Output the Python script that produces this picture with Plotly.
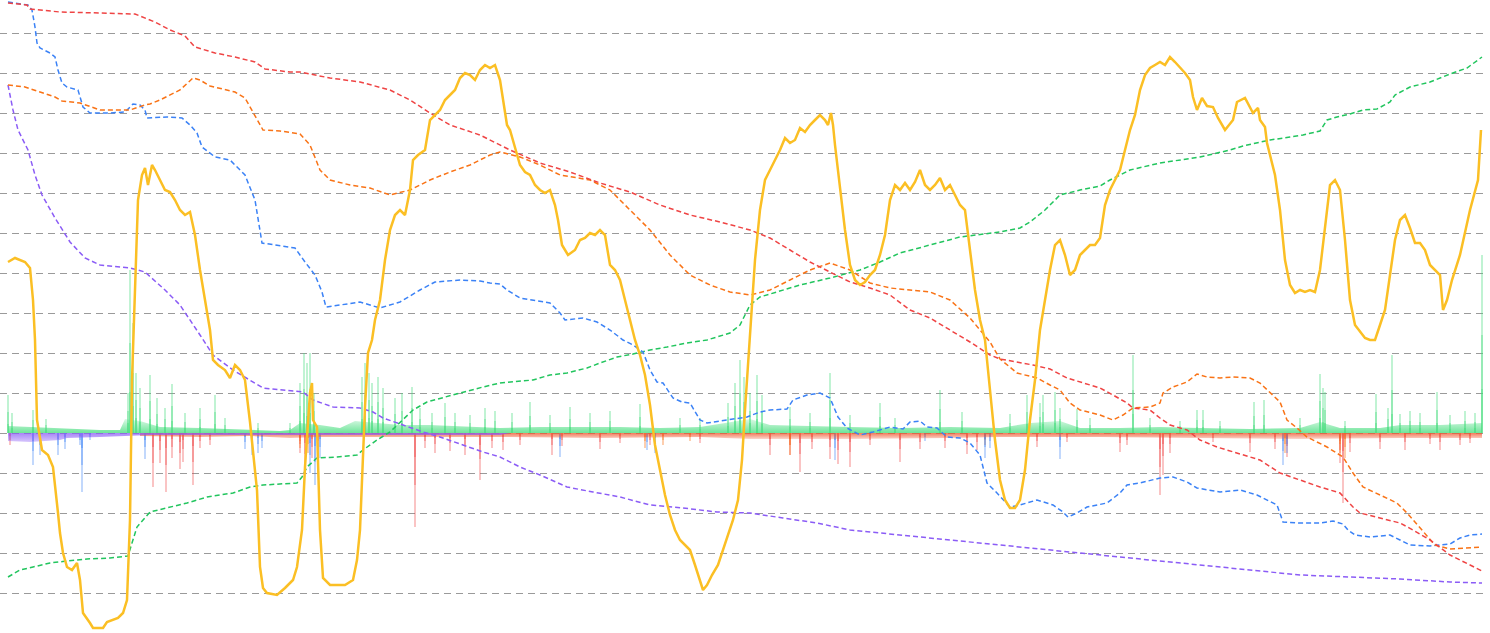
import plotly.graph_objects as go

# ---------------- data (t = day index, values in index points) ----------------
red_t = [0,19,22,52,92,127,132,147,162,177,187,207,227,247,257,282,292,322,352,382,402,422,442,472,502,532,562,592,622,652,682,712,742,762,782,802,822,842,862,882,902,922,942,962,982,992,1025,1042,1059,1075,1092,1105,1119,1125,1142,1152,1162,1179,1192,1209,1225,1242,1252,1272,1292,1312,1332,1345,1352,1372,1392,1405,1422,1442,1462,1474]
red_v = [430,428,424,421,420,419,417,411,403,397,386,380,376,371,364,361,361,355,351,343,333,320,308,298,283,270,261,250,241,228,218,211,203,195,183,171,161,151,145,138,123,115,103,91,78,74,68,64,55,50,45,38,30,25,23,15,8,3,-7,-14,-19,-24,-27,-40,-47,-54,-60,-74,-80,-85,-90,-97,-107,-122,-132,-138]

orange_t = [0,17,32,47,54,72,92,122,137,142,152,172,185,192,202,227,237,247,255,272,292,302,312,322,342,362,382,402,422,442,462,482,492,512,532,552,582,602,622,642,662,682,702,722,742,762,782,802,822,842,862,882,902,922,942,962,982,992,1009,1029,1042,1052,1062,1072,1092,1105,1115,1125,1142,1152,1155,1165,1179,1189,1199,1212,1225,1242,1252,1262,1272,1279,1289,1299,1319,1335,1345,1355,1372,1389,1399,1412,1427,1442,1462,1474]
orange_v = [348,346,341,336,332,330,323,323,328,329,333,343,355,353,347,341,335,318,303,302,299,288,263,253,248,245,238,243,253,261,268,278,281,276,268,258,253,243,223,203,178,158,148,141,138,143,153,163,170,163,150,145,143,141,133,115,91,74,60,55,48,43,30,23,18,13,18,25,26,30,40,46,51,59,56,55,56,55,50,40,31,13,5,-4,-14,-24,-40,-54,-62,-70,-80,-95,-112,-116,-115,-114]

blue_t = [0,12,20,24,27,29,32,42,47,50,54,59,70,75,82,102,117,125,132,137,139,159,174,182,189,194,207,222,237,247,254,267,287,297,307,314,318,332,352,372,392,412,427,452,472,482,492,499,512,542,552,557,575,589,602,615,625,635,642,649,655,665,674,682,692,699,712,725,739,752,762,779,785,799,812,822,830,839,852,865,882,895,902,912,919,929,939,952,962,972,979,989,1002,1012,1029,1045,1055,1060,1069,1079,1099,1112,1119,1132,1152,1165,1179,1189,1212,1232,1249,1269,1275,1292,1312,1325,1335,1340,1347,1362,1382,1392,1402,1422,1442,1452,1462,1474]
blue_v = [431,429,428,423,406,390,385,380,376,363,350,346,343,326,320,320,321,329,328,323,315,316,315,308,300,286,276,273,258,233,190,188,185,171,158,141,126,128,131,125,131,143,151,153,152,150,149,143,135,130,120,113,115,111,103,93,88,81,63,51,50,35,31,30,13,10,12,14,16,21,23,24,33,38,40,35,16,5,-2,1,6,4,11,12,6,5,-4,-5,-10,-22,-50,-60,-74,-72,-67,-72,-79,-84,-80,-74,-70,-60,-52,-50,-45,-44,-49,-55,-59,-57,-62,-72,-89,-90,-90,-88,-91,-97,-102,-104,-102,-107,-112,-113,-111,-105,-102,-101]

purple_t = [0,5,10,20,27,34,47,62,77,92,122,137,157,172,192,205,225,242,255,275,295,305,325,352,365,375,389,402,415,432,455,475,492,512,532,559,585,612,642,675,709,742,775,809,842,892,942,992,1042,1092,1142,1192,1242,1292,1342,1392,1442,1474]
purple_v = [348,323,303,283,258,238,215,191,175,168,165,161,143,128,98,78,63,53,45,43,41,33,26,25,21,15,10,5,1,-4,-12,-19,-24,-34,-42,-54,-59,-64,-72,-75,-79,-80,-85,-90,-97,-102,-107,-112,-117,-122,-127,-132,-137,-142,-144,-146,-149,-150]

green_t = [0,12,25,42,59,79,102,120,124,129,142,159,179,199,225,242,255,289,294,299,309,329,349,355,369,382,395,405,419,435,452,475,492,525,542,559,579,592,609,625,642,659,679,699,722,732,737,742,752,792,822,852,872,892,922,952,992,1012,1022,1037,1052,1072,1092,1102,1122,1152,1192,1222,1235,1249,1262,1282,1295,1312,1319,1329,1342,1355,1369,1382,1387,1402,1422,1442,1459,1474]
green_v = [-144,-137,-134,-130,-128,-126,-125,-123,-110,-94,-79,-75,-70,-64,-60,-54,-52,-50,-44,-34,-25,-24,-22,-17,-7,1,13,23,31,35,40,46,50,53,58,60,65,70,76,79,83,86,90,93,100,108,118,128,136,148,155,163,171,180,188,196,201,205,211,223,238,243,247,253,263,270,276,283,287,290,293,296,298,302,313,316,319,323,324,331,338,346,351,359,365,376]

yellow_t = [0,7,17,22,25,27,29,34,40,45,50,52,55,59,64,69,72,75,82,85,95,99,110,115,119,120,122,124,127,130,134,137,140,144,147,152,157,162,167,172,177,182,187,192,197,202,205,210,217,222,227,232,237,242,249,252,255,259,269,277,285,289,294,297,302,304,305,309,312,315,322,337,345,349,352,357,360,364,367,372,377,382,387,392,397,402,405,410,417,422,432,437,442,447,452,457,462,467,472,477,482,487,492,495,499,502,507,512,517,522,527,532,537,542,547,550,554,560,567,572,577,582,587,592,597,602,607,612,617,622,627,632,637,642,647,652,657,662,667,672,677,682,687,692,695,699,704,710,717,725,730,734,737,742,747,752,757,762,767,772,777,782,787,792,797,802,807,812,817,820,823,825,827,832,837,842,847,852,857,862,867,872,877,882,887,892,897,902,907,912,917,922,927,932,937,942,947,952,957,962,967,972,977,982,987,992,997,1002,1007,1012,1017,1022,1027,1032,1037,1042,1047,1052,1057,1062,1067,1072,1077,1082,1087,1092,1097,1102,1107,1112,1117,1122,1127,1132,1137,1142,1147,1152,1157,1162,1167,1172,1177,1182,1185,1189,1194,1199,1205,1210,1217,1225,1229,1237,1242,1245,1250,1252,1257,1259,1262,1267,1272,1277,1282,1287,1292,1297,1302,1307,1312,1317,1322,1327,1332,1337,1342,1347,1352,1357,1362,1367,1372,1377,1382,1387,1392,1397,1402,1407,1412,1417,1422,1427,1432,1435,1439,1444,1452,1462,1470,1473]
yellow_v = [171,175,171,165,133,93,13,-17,-22,-34,-80,-100,-120,-134,-137,-130,-147,-180,-190,-195,-195,-189,-185,-180,-167,-134,-87,53,153,233,258,265,248,268,263,253,243,241,233,223,218,221,198,163,133,103,73,68,63,55,68,63,53,11,-57,-134,-155,-160,-162,-155,-147,-134,-97,-34,40,50,13,6,-97,-145,-152,-152,-147,-127,-97,26,80,93,113,133,173,203,218,223,218,243,273,278,283,313,323,333,338,343,355,360,358,353,363,368,365,368,353,333,308,303,285,268,261,258,248,243,240,243,228,213,188,178,183,193,195,200,198,203,198,168,163,153,133,113,93,78,58,28,-12,-37,-62,-82,-97,-107,-112,-117,-132,-147,-157,-152,-142,-132,-112,-87,-67,-27,23,93,173,223,253,263,273,283,295,290,293,305,301,308,313,318,313,308,320,308,288,243,203,168,153,148,151,158,163,178,198,233,248,243,250,243,251,263,248,243,248,255,243,248,238,228,223,183,143,113,93,43,-7,-47,-67,-75,-75,-67,-37,13,53,103,133,163,188,193,178,158,163,178,183,188,188,195,228,243,253,263,283,303,318,343,358,365,368,371,368,376,371,366,360,353,336,323,335,327,326,315,303,313,331,335,325,320,325,313,306,290,278,258,223,173,148,140,143,141,143,141,163,203,248,253,243,193,133,108,101,95,93,93,108,123,158,193,213,218,205,190,190,183,168,163,158,123,133,153,178,223,253,303]

# bar / area series (negative = outflow)
green_base_t = [0,22,52,72,92,112,117,132,152,192,222,242,272,282,292,312,332,347,372,392,422,452,492,532,572,612,652,692,717,742,762,792,842,892,942,992,1022,1052,1072,1112,1152,1192,1242,1292,1312,1332,1372,1392,1432,1474]
green_base_v = [7,6,5,4,3,3,14,12,6,5,4,3,2,3,10,8,5,12,10,8,8,7,5,6,6,6,5,6,10,14,8,7,6,5,6,5,10,12,5,5,6,5,4,5,11,5,5,8,8,10]
green_spike_t = [0,4,25,38,120,122,125,128,132,142,149,157,164,177,192,207,217,250,282,292,296,299,302,306,354,357,361,364,370,375,387,394,404,412,424,437,447,462,477,487,504,522,542,562,582,602,632,672,692,720,727,732,736,742,749,754,782,802,822,842,872,887,932,954,1002,1019,1032,1035,1047,1052,1069,1082,1125,1142,1172,1189,1195,1212,1246,1256,1292,1312,1315,1317,1337,1368,1380,1384,1392,1402,1412,1429,1442,1457,1467,1474]
green_spike_v = [38,20,23,14,40,163,110,60,45,58,35,25,49,20,25,38,15,10,10,50,80,70,80,40,56,70,60,50,56,45,35,40,46,25,20,30,20,18,25,22,20,31,18,26,20,22,29,15,15,30,50,73,56,40,58,38,26,20,60,18,30,15,43,21,19,38,30,38,41,25,24,15,78,15,12,23,23,12,31,33,15,59,45,41,12,39,25,78,19,22,20,41,18,22,20,178]

red_base_t = [132,192,242,282,312,392,492,592,692,742,842,942,992,1092,1192,1292,1392,1474]
red_base_v = [-3,-4,-3,-5,-4,-4,-4,-5,-4,-6,-6,-5,-4,-4,-5,-6,-5,-5]
purple_base_t = [0,22,52,59,92,122,142,492,502]
purple_base_v = [-8,-9,-7,-5,-4,-3,-2,-2,0]

red_spike_t = [2,145,152,158,164,172,175,185,192,202,292,297,304,310,407,417,427,442,457,472,484,495,512,544,554,592,612,642,692,762,782,792,804,822,830,842,862,892,912,937,959,969,1029,1059,1112,1119,1152,1155,1162,1205,1242,1267,1279,1332,1335,1342,1372,1397,1422,1432,1452,1462]
red_spike_v = [-12,-54,-30,-59,-25,-36,-29,-52,-15,-12,-20,-39,-25,-30,-94,-15,-20,-18,-22,-47,-15,-17,-12,-22,-13,-16,-10,-12,-10,-22,-22,-39,-16,-26,-31,-34,-12,-29,-16,-15,-21,-17,-14,-9,-19,-12,-62,-42,-20,-9,-19,-16,-24,-30,-70,-19,-16,-17,-11,-17,-12,-10]
orange_spike_t = [292,300,637,655,682,782,977,1277,1332,1337]
orange_spike_v = [-15,-20,-15,-12,-8,-22,-12,-20,-20,-25]
blue_spike_t = [25,32,50,57,72,74,82,137,237,244,250,254,302,307,312,552,639,647,827,917,977,982,1052,1275,1279]
blue_spike_v = [-32,-22,-22,-16,-12,-59,-7,-26,-16,-22,-20,-15,-40,-52,-25,-24,-17,-20,-27,-8,-25,-15,-26,-32,-20]

grid_vals = [-160,-120,-80,-40,0,40,80,120,160,200,240,280,320,360,400]

# ---------------- figure ----------------
fig = go.Figure()

def area(t, v, rgb, a0, a1, span):
    fig.add_trace(go.Scatter(
        x=t, y=v, mode="lines", fill="tozeroy",
        line=dict(width=0, color="rgba(%s,0)" % rgb),
        fillgradient=dict(type="vertical", start=0, stop=span,
                          colorscale=[[0, "rgba(%s,%s)" % (rgb, a0)],
                                      [1, "rgba(%s,%s)" % (rgb, a1)]]),
        hoverinfo="skip", showlegend=False))

def spikes(t, v, rgb, alpha, w=1.6):
    # layered bars give a fading (gradient-like) look toward the tip
    for frac, a in ((1.0, alpha * 0.35), (0.55, alpha * 0.35), (0.25, alpha * 0.4)):
        fig.add_trace(go.Bar(x=t, y=[val * frac for val in v], width=w,
                             marker=dict(color="rgba(%s,%s)" % (rgb, a), line=dict(width=0)),
                             hoverinfo="skip", showlegend=False))

area(green_base_t, green_base_v, "74,222,128", 0.8, 0.2, 14)
area(red_base_t, red_base_v, "239,90,50", 0.8, 0.25, -6)
area(purple_base_t, purple_base_v, "139,92,246", 0.75, 0.35, -9)
spikes(green_spike_t, green_spike_v, "74,222,128", 1.0)
spikes(red_spike_t, red_spike_v, "239,68,68", 0.9)
spikes(orange_spike_t, orange_spike_v, "249,115,22", 1.0)
spikes(blue_spike_t, blue_spike_v, "59,130,246", 0.9)

def dline(t, v, color):
    fig.add_trace(go.Scatter(x=t, y=v, mode="lines",
                             line=dict(color=color, width=1.5, dash="5px,3px"),
                             hoverinfo="skip", showlegend=False))

dline(purple_t, purple_v, "#8b5cf6")
dline(green_t, green_v, "#22c55e")
dline(blue_t, blue_v, "#3b82f6")
dline(orange_t, orange_v, "#f97316")
dline(red_t, red_v, "#ef4444")
fig.add_trace(go.Scatter(x=yellow_t, y=yellow_v, mode="lines",
                         line=dict(color="#fbbf24", width=2.5),
                         hoverinfo="skip", showlegend=False))

fig.update_layout(
    width=1490, height=633,
    margin=dict(l=0, r=4, t=0, b=0),
    paper_bgcolor="white", plot_bgcolor="white",
    barmode="overlay", bargap=0,
    xaxis=dict(range=[-8, 1478], showgrid=False, zeroline=False,
               showticklabels=False, showline=False, fixedrange=True),
    yaxis=dict(range=[-200, 433], tickmode="array", tickvals=grid_vals,
               showgrid=True, gridcolor="#9a9a9a", gridwidth=1, griddash="7px,5px",
               zeroline=False, showticklabels=False, showline=False, fixedrange=True),
)

fig.write_html("out.html", config={"displayModeBar": False},
               post_script="document.body.style.margin='0';")
